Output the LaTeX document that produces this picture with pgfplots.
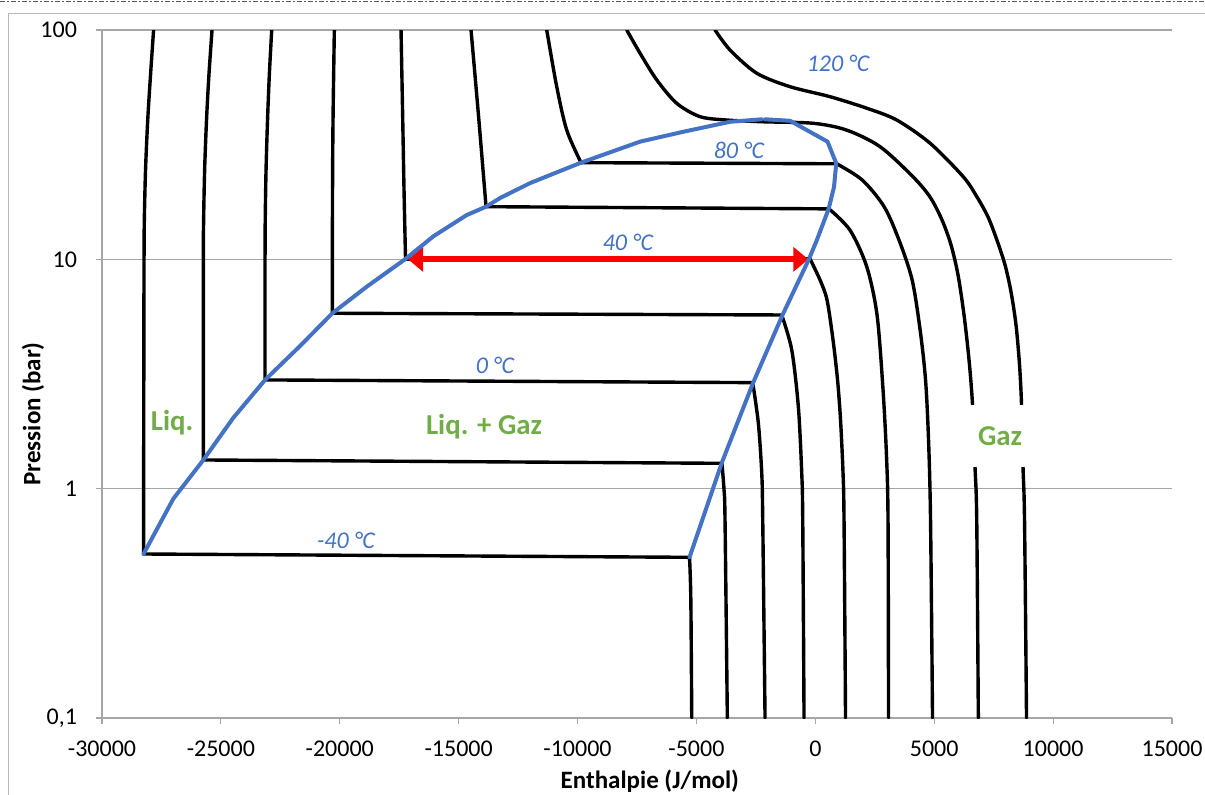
\documentclass[border=0pt]{standalone}
\usepackage{pgfplots}
\pgfplotsset{compat=1.18}
\usepackage{fontspec}
\setmainfont{Carlito}
\usetikzlibrary{arrows.meta}
\definecolor{satblue}{RGB}{68,114,196}
\definecolor{labgreen}{RGB}{112,173,71}
\definecolor{axgray}{RGB}{166,166,166}
\begin{document}
\begin{tikzpicture}
\path[use as bounding box] (-51pt,-38pt) rectangle (551.5pt,359pt);
\draw[gray!70!black, line width=0.5pt, dash pattern=on 2.5pt off 1.2pt on 0.6pt off 1.2pt] (-51pt,358pt) -- (551.5pt,358pt);
\draw[axgray!80, line width=0.5pt] (-46.5pt,-60pt) rectangle (570pt,352pt);
\begin{axis}[
  scale only axis, width=535pt, height=344pt,
  xmin=-30000, xmax=15000, ymode=log, ymin=0.1, ymax=100,
  scaled x ticks=false,
  xtick={-30000,-25000,-20000,-15000,-10000,-5000,0,5000,10000,15000},
  xticklabels={-30000,-25000,-20000,-15000,-10000,-5000,0,5000,10000,15000},
  ytick={0.1,1,10,100}, yticklabels={{0,1},1,10,100},
  yminorticks=false,
  axis x line*=bottom, axis y line*=left,
  axis line style={axgray, line width=0.6pt, -},
  every tick/.style={axgray, line width=0.6pt},
  tick align=outside, major tick length=3pt,
  ymajorgrids, grid style={axgray, line width=0.6pt},
  tick label style={font=\fontsize{12}{14}\selectfont},
  xticklabel style={yshift=-5pt},
  yticklabel style={xshift=-6pt},
  xlabel={Enthalpie (J/mol)}, ylabel={Pression (bar)},
  label style={font=\bfseries\fontsize{12.5}{15}\selectfont},
  xlabel style={at={([yshift=-31.5pt]rel axis cs:0.512,0)}, anchor=center},
  ylabel style={at={([xshift=-34.5pt]rel axis cs:0,0.442)}, anchor=center},
  clip=true,
  iso/.style={black, line width=1.7pt, line cap=round, line join=round},
  isos/.style={iso, smooth, tension=0.5},
]
% -40 C
\addplot[isos] coordinates {(-27830,100) (-27959,63.7) (-28077,40.5) (-28169,24.5) (-28220,14.8) (-28232,10.04) (-28240,4) (-28253,0.519)};
\addplot[iso] coordinates {(-28253,0.519) (-5291,0.502)};
\addplot[isos] coordinates {(-5291,0.502) (-5236,0.327) (-5198,0.1)};
% -20 C
\addplot[isos] coordinates {(-25372,100) (-25503,63.7) (-25604,40.5) (-25684,24.5) (-25726,14.8) (-25738,10.04) (-25738,1.334)};
\addplot[iso] coordinates {(-25738,1.334) (-3928,1.29)};
\addplot[isos] coordinates {(-3928,1.29) (-3840,0.987) (-3798,0.730) (-3701,0.1)};
% 0 C
\addplot[isos] coordinates {(-22862,100) (-22963,63.7) (-23038,40.5) (-23101,24.5) (-23135,14.8) (-23143,10.04) (-23143,2.98)};
\addplot[iso] coordinates {(-23143,2.98) (-2633,2.90)};
\addplot[isos] coordinates {(-2633,2.90) (-2397,1.93) (-2254,1.17) (-2212,0.730) (-2115,0.1)};
% 20 C
\addplot[isos] coordinates {(-20229,100) (-20258,63.7) (-20284,40.5) (-20301,24.5) (-20313,10.04) (-20313,5.82)};
\addplot[iso] coordinates {(-20313,5.82) (-1413,5.72)};
\addplot[isos] coordinates {(-1413,5.72) (-993,4.03) (-715,2.28) (-572,1.17) (-530,0.730) (-475,0.1)};
% 40 C
\addplot[isos] coordinates {(-17424,100) (-17352,40.5) (-17298,20.07) (-17235,10.04)};
\addplot[iso] coordinates {(-17235,10.04) (-252,10.04)};
\addplot[isos] coordinates {(-223,10.04) (198,8.13) (492,6.65) (744,4.45) (934,2.98) (1060,1.99) (1165,1.17) (1207,0.730) (1270,0.1)};
% 60 C
\addplot[isos] coordinates {(-14480,100) (-14150,40.5) (-13849,16.97)};
\addplot[iso] coordinates {(-13849,16.97) (576,16.6)};
\addplot[isos] coordinates {(576,16.6) (1459,13.4) (2162,9.29) (2595,5.72) (2848,2.69) (2994,1.38) (3057,0.730) (3078,0.1)};
% 80 C
\addplot[isos] coordinates {(-11296,100) (-10876,56.6) (-10455,36.6) (-9854,26.4)};
\addplot[iso] coordinates {(-9854,26.4) (900,26.1)};
\addplot[isos] coordinates {(900,26.1) (1968,22.2) (2893,16.97) (3524,12.1) (4071,8.13) (4407,4.92) (4635,2.98) (4761,1.63) (4845,0.730) (4929,0.1)};
% 100 C
\addplot[isos] coordinates {(-7932,100) (-7372,79.2) (-6670,60.6) (-5829,47.9) (-4849,41.9) (-3726,40.5) (-2187,39.8) (-84,39.2) (1321,36.6) (2721,31.0) (4109,22.9) (4824,18.7) (5328,14.85) (5707,11.55) (6001,8.55) (6253,5.72) (6464,3.64) (6611,2.32) (6716,1.24) (6788,0.730) (6855,0.1)};
% 120 C
\addplot[isos] coordinates {(-4218,100) (-3587,81.8) (-2464,64.8) (-1064,56.6) (618,51.2) (2162,45.6) (3423,40.5) (4824,32.1) (6224,22.9) (6800,18.7) (7263,15.3) (7641,12.1) (7978,9.45) (8230,7.21) (8440,5.17) (8588,3.46) (8672,2.32) (8735,1.24) (8798,0.730) (8882,0.1)};
% red arrow
\addplot[red, line width=3pt, {Triangle[length=7.5pt,width=12pt]}-{Triangle[length=7.5pt,width=12pt]}] coordinates {(-17129,10) (-294,10)};
% saturation curve
\addplot[satblue, line width=2pt, line join=round, line cap=round] coordinates {(-28253,0.519) (-27000,0.904) (-25738,1.334) (-24489,2.03) (-23143,2.98) (-21671,4.19) (-20313,5.82) (-18866,7.60) (-17235,10.04) (-16065,12.6) (-14661,15.6) (-13849,16.97) (-13260,18.5) (-11999,21.5) (-9854,26.4) (-7372,32.6) (-5551,36.0) (-3587,39.8) (-2254,40.8)};
\addplot[satblue, line width=2pt, line join=round, line cap=round] coordinates {(-2115,40.8) (-1064,40.2) (513,32.6) (880,26.2) (786,20.7) (560,16.6) (59,12.1) (-265,10.04) (-1380,5.72) (-2620,2.89) (-3930,1.30) (-5291,0.502)};
% labels
\node[text=satblue, font=\itshape\fontsize{12}{14}\selectfont] at (axis cs:955,71.8) {120 °C};
\node[text=satblue, font=\itshape\fontsize{12}{14}\selectfont] at (axis cs:-3209,30.0) {80 °C};
\node[text=satblue, font=\itshape\fontsize{12}{14}\selectfont] at (axis cs:-7877,11.8) {40 °C};
\node[text=satblue, font=\itshape\fontsize{12}{14}\selectfont] at (axis cs:-13471,3.46) {0 °C};
\node[text=satblue, font=\itshape\fontsize{12}{14}\selectfont] at (axis cs:-19737,0.598) {-40 °C};
\node[text=labgreen, font=\bfseries\fontsize{14.4}{16}\selectfont] at (axis cs:-27055,1.934) {Liq.};
\node[text=labgreen, font=\bfseries\fontsize{14.4}{16}\selectfont] at (axis cs:-13933,1.858) {Liq. + Gaz};
\node[text=labgreen, fill=white, inner xsep=8pt, minimum height=31pt, font=\bfseries\fontsize{14.4}{16}\selectfont] at (axis cs:7768,1.697) {Gaz};
\end{axis}
\end{tikzpicture}
\end{document}
